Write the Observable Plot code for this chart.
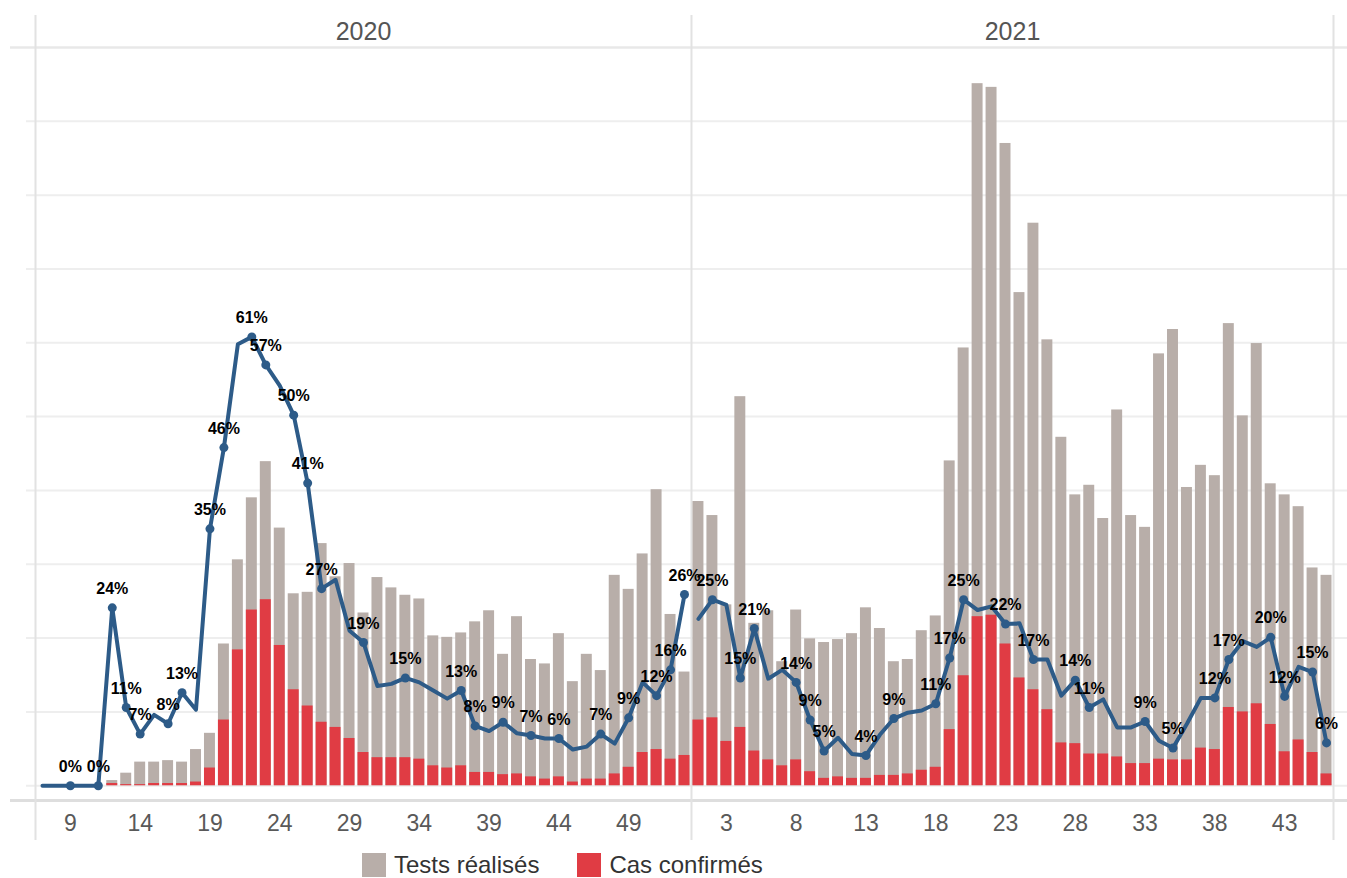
<!DOCTYPE html>
<html>
<head>
<meta charset="utf-8">
<script src="https://cdn.jsdelivr.net/npm/d3@7"></script>
<script src="https://cdn.jsdelivr.net/npm/@observablehq/plot@0.6"></script>
<style>
  body { margin: 0; background: #fff; font-family: "Liberation Sans", Arial, sans-serif; }
  #wrap { position: relative; width: 1347px; height: 878px; overflow: hidden; background: #fff; }
  #legend { position: absolute; left: 362px; top: 853px; display: flex; align-items: center; font-size: 24px; color: #333; line-height: 24px; }
  #legend .sw { width: 24px; height: 24px; display: inline-block; margin-right: 8px; }
  #legend .item { display: flex; align-items: center; margin-right: 38px; }
</style>
</head>
<body>
<div id="wrap">
  <div id="chart"></div>
  <div id="legend"></div>
</div>
<script>
// ---------- DATA ----------
const years = ["2020", "2021"];

const weeks2020 = [7,8,9,10,11,12,13,14,15,16,17,18,19,20,21,22,23,24,25,26,27,28,29,30,31,32,33,34,35,36,37,38,39,40,41,42,43,44,45,46,47,48,49,50,51,52,53];
const tests2020 = [0,0,0,0,0,0.7,1.7,3.2,3.2,3.4,3.2,4.9,7.1,19.2,30.6,39.0,43.9,34.9,26.0,26.2,32.8,28.3,30.1,23.4,28.2,26.8,25.8,25.3,20.3,20.1,20.7,22.2,23.7,17.8,22.9,17.1,16.5,20.6,14.1,17.8,15.6,28.5,26.6,31.4,40.1,23.2,15.4];
const cases2020 = [0,0,0,0,0,0.3,0.15,0.15,0.3,0.3,0.3,0.5,2.4,8.9,18.4,23.8,25.2,19.0,13.0,10.8,8.6,7.9,6.4,4.5,3.8,3.8,3.8,3.6,2.7,2.4,2.7,1.8,1.8,1.5,1.6,1.2,0.9,1.2,0.5,0.9,0.9,1.6,2.5,4.5,4.9,3.6,4.1];
const pct2020 = [0,0,0,0,0,24.1,10.6,7.0,9.6,8.4,12.6,10.3,34.8,45.8,59.8,60.8,57.0,54.2,50.2,41.0,26.7,27.9,21.0,19.4,13.5,13.8,14.6,14.0,12.9,11.8,12.9,8.1,7.4,8.6,7.1,6.8,6.4,6.4,4.9,5.3,7.0,5.7,9.2,14.0,12.2,15.7,25.9];
const labeled2020 = [9,11,12,13,14,16,17,19,20,22,23,25,26,27,30,33,37,38,40,42,44,47,49,51,52,53];

const weeks2021 = [1,2,3,4,5,6,7,8,9,10,11,12,13,14,15,16,17,18,19,20,21,22,23,24,25,26,27,28,29,30,31,32,33,34,35,36,37,38,39,40,41,42,43,44,45,46];
const tests2021 = [38.5,36.6,24.5,52.7,22.0,23.7,16.8,23.8,19.9,19.4,19.8,20.6,24.1,21.3,16.8,17.1,21.0,23.0,44.0,59.3,95.1,94.6,87.0,66.8,76.2,60.4,47.2,39.4,40.7,36.2,50.9,36.6,35.0,58.5,61.8,40.4,43.4,42.0,62.6,50.1,59.9,40.9,39.4,37.8,29.5,28.5];
const cases2021 = [8.9,9.2,6.0,7.9,4.7,3.5,2.7,3.5,1.9,1.0,1.2,1.0,1.0,1.4,1.4,1.6,2.1,2.5,7.6,14.9,22.9,23.1,19.2,14.6,13.0,10.3,5.8,5.7,4.3,4.3,3.9,3.0,3.0,3.6,3.5,3.5,5.1,4.9,10.6,10.0,11.1,8.3,4.6,6.2,4.5,1.6];
const pct2021 = [22.6,25.2,24.5,14.6,21.3,14.5,15.7,14.0,8.9,4.7,6.5,4.3,4.1,6.9,9.1,9.9,10.2,11.1,17.3,25.2,23.8,24.3,21.9,22.0,17.1,17.1,12.2,14.3,10.6,11.7,7.9,7.9,8.7,6.1,5.1,8.4,11.9,11.9,17.1,19.6,18.8,20.1,12.1,16.1,15.4,5.8];
const labeled2021 = [2,4,5,8,9,10,13,15,18,19,20,23,25,28,29,33,35,38,39,42,43,45,46];

const tickWeeks2020 = [9,14,19,24,29,34,39,44,49];
const tickWeeks2021 = [3,8,13,18,23,28,33,38,43];

const seriesNames = ["Tests réalisés", "Cas confirmés"];
const colorTests = "#b8aea9";
const colorCases = "#e03c44";
const colorLine = "#2d5b88";

// ---------- TABLE ----------
const rows = [];
function addYear(year, weeks, tests, cases, pct, labeled) {
  weeks.forEach((w, i) => rows.push({
    year, week: w, key: year + "-" + w,
    tests: tests[i], cases: cases[i], pct: pct[i],
    label: labeled.includes(w)
  }));
}
addYear("2020", weeks2020, tests2020, cases2020, pct2020, labeled2020);
addYear("2021", weeks2021, tests2021, cases2021, pct2021, labeled2021);

const keys = rows.map(d => d.key);
const ticks = [
  ...tickWeeks2020.map(w => ({key: "2020-" + w, week: w})),
  ...tickWeeks2021.map(w => ({key: "2021-" + w, week: w}))
];
const header2020 = [{key: "2020-" + weeks2020[Math.floor(weeks2020.length / 2)], year: years[0]}];
const header2021 = [{key: "2021-" + weeks2021[weeks2021.length / 2 - 1], year: years[1]}];
const firstKeys = years.map(y => rows.find(d => d.year === y).key);
const lastKey = keys[keys.length - 1];

const W = 1347, H = 850;
const xRange = [35, 1333];
const step = (xRange[1] - xRange[0]) / keys.length;
const font = "'Liberation Sans', Arial, sans-serif";

const chart = Plot.plot({
  width: W,
  height: H,
  marginTop: 47,
  marginBottom: 50,
  marginLeft: 10,
  marginRight: 0,
  style: {fontFamily: font, background: "white", overflow: "visible"},
  x: {type: "band", domain: keys, range: xRange, padding: 0, axis: null},
  y: {domain: [-2, 100], axis: null},
  marks: [
    Plot.ruleY([0,10,20,30,40,50,60,70,80,90], {stroke: "#eeeeee", strokeWidth: 2, insetLeft: 16}),
    Plot.ruleY([100], {stroke: "#e8e8e8", strokeWidth: 2.5}),
    Plot.ruleY([-2], {stroke: "#dedede", strokeWidth: 3}),
    Plot.ruleX(firstKeys, {x: d => d, dx: -step / 2, stroke: "#e2e2e2", strokeWidth: 2, insetTop: -32, insetBottom: -40}),
    Plot.ruleX([lastKey], {x: d => d, dx: step / 2, stroke: "#e2e2e2", strokeWidth: 2, insetTop: -32, insetBottom: -40}),
    Plot.barY(rows, {x: "key", y: "tests", fill: colorTests, insetLeft: 1.5, insetRight: 1.5}),
    Plot.barY(rows, {x: "key", y: "cases", fill: colorCases, insetLeft: 1.5, insetRight: 1.5}),
    Plot.line(rows, {x: "key", y: "pct", z: "year", stroke: colorLine, strokeWidth: 4, strokeLinejoin: "round", strokeLinecap: "round"}),
    Plot.dot(rows.filter(d => d.label), {x: "key", y: "pct", r: 4.5, fill: colorLine, stroke: "none"}),
    Plot.text(rows.filter(d => d.label), {x: "key", y: "pct", text: d => Math.round(d.pct) + "%", dy: -19, fontSize: 16, fontWeight: "bold", fill: "#000"}),
    Plot.text(ticks, {x: "key", text: d => String(d.week), frameAnchor: "bottom", lineAnchor: "middle", dy: 23, fontSize: 23, fill: "#595959"}),
    Plot.text(header2020, {x: "key", text: "year", frameAnchor: "top", lineAnchor: "middle", dy: -16, fontSize: 25, fill: "#555"}),
    Plot.text(header2021, {x: "key", text: "year", frameAnchor: "top", lineAnchor: "middle", dx: 7, dy: -16, fontSize: 25, fill: "#555"})
  ]
});
document.getElementById("chart").appendChild(chart);

// legend
const legend = document.getElementById("legend");
[[seriesNames[0], colorTests], [seriesNames[1], colorCases]].forEach(([name, c]) => {
  const it = document.createElement("div");
  it.className = "item";
  const sw = document.createElement("span");
  sw.className = "sw";
  sw.style.background = c;
  it.appendChild(sw);
  it.appendChild(document.createTextNode(name));
  legend.appendChild(it);
});
</script>
</body>
</html>
